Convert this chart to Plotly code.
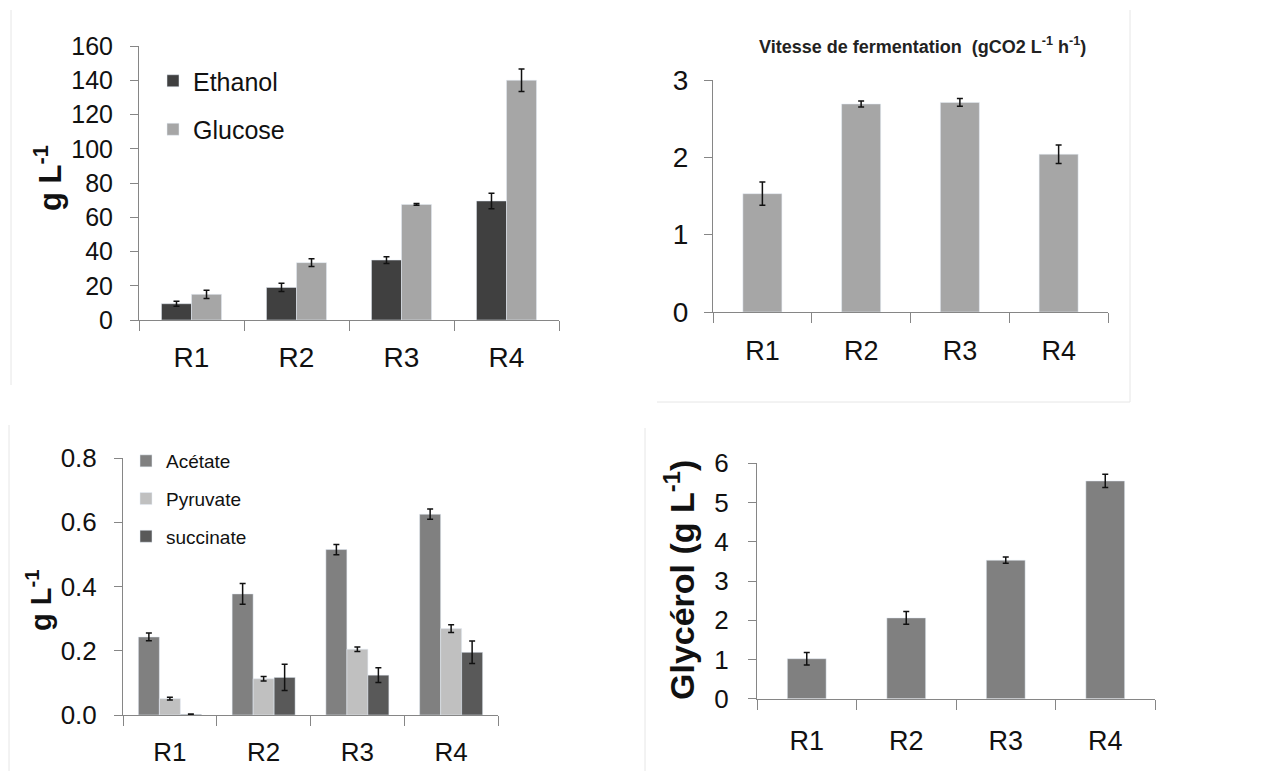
import plotly.graph_objects as go

cats = ["R1", "R2", "R3", "R4"]

ethanol = [9.5, 19.0, 35.0, 69.5]
ethanol_err = [1.4, 2.4, 2.0, 4.5]
glucose = [15.0, 33.5, 67.5, 140.0]
glucose_err = [2.4, 2.2, 0.5, 6.5]

vitesse = [1.53, 2.69, 2.71, 2.04]
vitesse_err = [0.15, 0.04, 0.05, 0.12]

acetate = [0.243, 0.377, 0.515, 0.625]
acetate_err = [0.012, 0.032, 0.016, 0.016]
pyruvate = [0.051, 0.113, 0.205, 0.269]
pyruvate_err = [0.004, 0.007, 0.007, 0.012]
succinate = [0.002, 0.117, 0.124, 0.195]
succinate_err = [0.001, 0.041, 0.023, 0.035]

glycerol = [1.02, 2.06, 3.53, 5.55]
glycerol_err = [0.16, 0.16, 0.08, 0.17]

FONT = "Arial, Liberation Sans, sans-serif"
AX = "#868686"
TXT = "#111111"
W, H = 1268, 771


def px_x(a, b):
    return [a / W, b / W]


def px_y(top, bottom):
    return [1 - bottom / H, 1 - top / H]


def err(vals, th=1.5, w=3):
    return dict(type="data", array=vals, visible=True, color=TXT, thickness=th, width=w)


fig = go.Figure()

# Panel 1: Ethanol / Glucose
bw1 = 0.286
fig.add_trace(go.Bar(x=cats, y=ethanol, name="Ethanol", marker_color="#404040",
                     width=bw1, offset=-bw1, error_y=err(ethanol_err),
                     xaxis="x", yaxis="y", legend="legend", legendgroup="e"))
fig.add_trace(go.Bar(x=cats, y=glucose, name="Glucose", marker_color="#a6a6a6",
                     width=bw1, offset=0, error_y=err(glucose_err),
                     xaxis="x", yaxis="y", legend="legend", legendgroup="g"))

# Panel 2: Vitesse de fermentation
bw2 = 0.395
fig.add_trace(go.Bar(x=cats, y=vitesse, name="Vitesse", marker_color="#a6a6a6",
                     width=bw2, offset=-bw2 / 2, error_y=err(vitesse_err),
                     xaxis="x2", yaxis="y2", showlegend=False))

# Panel 3: Acetate / Pyruvate / succinate
bw3 = 0.224
fig.add_trace(go.Bar(x=cats, y=acetate, name="Acétate", marker_color="#808080",
                     width=bw3, offset=-1.5 * bw3, error_y=err(acetate_err),
                     xaxis="x3", yaxis="y3", legend="legend2", legendgroup="a"))
fig.add_trace(go.Bar(x=cats, y=pyruvate, name="Pyruvate", marker_color="#c0c0c0",
                     width=bw3, offset=-0.5 * bw3, error_y=err(pyruvate_err),
                     xaxis="x3", yaxis="y3", legend="legend2", legendgroup="p"))
fig.add_trace(go.Bar(x=cats, y=succinate, name="succinate", marker_color="#595959",
                     width=bw3, offset=0.5 * bw3, error_y=err(succinate_err),
                     xaxis="x3", yaxis="y3", legend="legend2", legendgroup="s"))

# Panel 4: Glycerol
bw4 = 0.39
fig.add_trace(go.Bar(x=cats, y=glycerol, name="Glycérol", marker_color="#808080",
                     width=bw4, offset=-bw4 / 2, error_y=err(glycerol_err),
                     xaxis="x4", yaxis="y4", showlegend=False))


def xax(domain, anchor, size, standoff):
    return dict(domain=domain, anchor=anchor, type="category", range=[-0.5, 3.5],
                showline=True, linecolor=AX, linewidth=1, ticks="outside", tickson="boundaries",
                ticklen=10, tickcolor=AX, showgrid=False, zeroline=False, automargin=False,
                tickfont=dict(family=FONT, size=size, color=TXT),
                ticklabelstandoff=standoff)


def yax(domain, anchor, rng, dtick, size, fmt=None, standoff=10):
    d = dict(domain=domain, anchor=anchor, range=rng, dtick=dtick,
             showline=True, linecolor=AX, linewidth=1, ticks="outside",
             ticklen=8, tickcolor=AX, showgrid=False, zeroline=False, automargin=False,
             tickfont=dict(family=FONT, size=size, color=TXT),
             ticklabelstandoff=standoff)
    if fmt:
        d["tickformat"] = fmt
    return d


fig.update_layout(
    width=W, height=H,
    margin=dict(l=0, r=0, t=0, b=0, pad=0, autoexpand=False),
    paper_bgcolor="white", plot_bgcolor="white",
    barmode="overlay",
    font=dict(family=FONT, color=TXT),
    xaxis=xax(px_x(139, 559), "y", 28, 12),
    yaxis=yax(px_y(46, 320), "x", [0, 160], 20, 25, standoff=12),
    xaxis2=xax(px_x(713, 1108), "y2", 27, 15),
    yaxis2=yax(px_y(80, 312), "x2", [0, 3], 1, 28, standoff=10),
    xaxis3=xax(px_x(123, 498), "y3", 26, 14),
    yaxis3=yax(px_y(458, 715), "x3", [0, 0.8], 0.2, 26, fmt=".1f", standoff=12),
    xaxis4=xax(px_x(757, 1155), "y4", 27, 18),
    yaxis4=yax(px_y(463.3, 698.7), "x4", [0, 6], 1, 26, standoff=14),
    legend=dict(x=153 / W, y=1 - 58 / H, xanchor="left", yanchor="top",
                bgcolor="rgba(0,0,0,0)", font=dict(family=FONT, size=25, color=TXT),
                tracegroupgap=13, itemclick=False),
    legend2=dict(x=126 / W, y=1 - 442 / H, xanchor="left", yanchor="top",
                 bgcolor="rgba(0,0,0,0)", font=dict(family=FONT, size=19, color=TXT),
                 tracegroupgap=10, itemclick=False),
    showlegend=True,
)


def ann(text, x, y, size, angle=0, color=TXT):
    return dict(text=text, x=x / W, y=1 - y / H, xref="paper", yref="paper",
                xanchor="center", yanchor="middle", textangle=angle, showarrow=False,
                font=dict(family=FONT, size=size, color=color))


annotations = [
    ann("<b>g L<sup>-1</sup></b>", 48, 178, 31, -90),
    ann("<b>Vitesse de fermentation  (gCO2 L<sup>-1</sup> h<sup>-1</sup>)</b>", 922, 45, 18, 0, "#222222"),
    ann("<b>g L<sup>-1</sup></b>", 39, 600, 29, -90),
    ann("<b>Glycérol (g L<sup>-1</sup>)</b>", 679, 580, 34, -90),
]
fig.update_layout(annotations=annotations)

BORDER = "#e6e6e6"


def line(x0, y0, x1, y1):
    return dict(type="line", xref="paper", yref="paper", x0=x0 / W, x1=x1 / W,
                y0=1 - y0 / H, y1=1 - y1 / H, line=dict(color=BORDER, width=1))


shapes = [
    line(11, 10, 11, 385),
    line(1130, 10, 1130, 402),
    line(657, 402, 1130, 402),
    line(9, 425, 9, 771),
    line(645, 428, 645, 771),
]
fig.update_layout(shapes=shapes)

fig.write_html("out.html")
